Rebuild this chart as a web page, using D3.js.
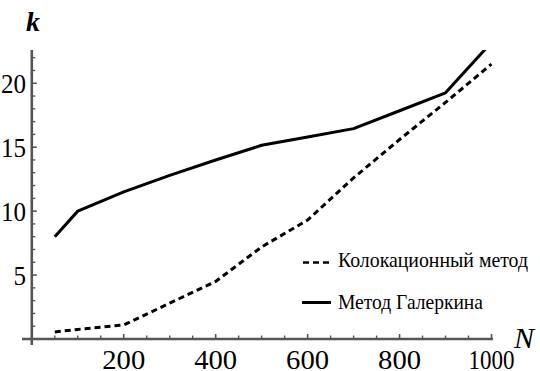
<!DOCTYPE html>
<html><head><meta charset="utf-8">
<script src="https://cdn.jsdelivr.net/npm/d3@7"></script>
<style>
html,body{margin:0;padding:0;background:#fff;}
svg{display:block;}
</style>
</head><body>
<svg id="chart" width="540" height="371"></svg>
<script>
const N = [50, 100, 200, 300, 400, 500, 600, 700, 800, 900, 1000];
const galerkin = [8.0, 10.0, 11.5, 12.8, 14.0, 15.15, 15.8, 16.45, 17.85, 19.25, 23.2];
const collocation = [0.55, 0.75, 1.1, 2.8, 4.5, 7.2, 9.3, 12.6, 15.6, 18.5, 21.5];
const xMajor = [200, 400, 600, 800, 1000];
const xMinor = [50, 100, 150, 250, 300, 350, 450, 500, 550, 650, 700, 750, 850, 900, 950];
const yMajor = [5, 10, 15, 20];
const yMinor = [1, 2, 3, 4, 6, 7, 8, 9, 11, 12, 13, 14, 16, 17, 18, 19, 21, 22];
const seriesNames = ["Колокационный метод", "Метод Галеркина"];

const FONT = "Liberation Serif, DejaVu Serif, Times New Roman, serif";
const svg = d3.select("#chart").attr("font-family", FONT);
const x = d3.scaleLinear().domain([0, 1000]).range([31.8, 491.5]);
const y = d3.scaleLinear().domain([0, 22.6]).range([339, 50]);
const axisColor = "#555";

svg.append("defs").append("clipPath").attr("id", "plot")
  .append("rect").attr("x", x(0)).attr("y", y(22.6)).attr("width", 480).attr("height", y(0) - y(22.6));

// axes lines
svg.append("line").attr("x1", 22).attr("x2", 493).attr("y1", y(0)).attr("y2", y(0))
  .attr("stroke", axisColor).attr("stroke-width", 2.6);
svg.append("line").attr("x1", x(0)).attr("x2", x(0)).attr("y1", y(22.6)).attr("y2", 345)
  .attr("stroke", axisColor).attr("stroke-width", 2.6);

// ticks
svg.selectAll(".xmaj").data(xMajor).join("line")
  .attr("x1", d => x(d)).attr("x2", d => x(d)).attr("y1", y(0)).attr("y2", y(0) - 5)
  .attr("stroke", axisColor).attr("stroke-width", 1.6);
svg.selectAll(".xmin").data(xMinor).join("line")
  .attr("x1", d => x(d)).attr("x2", d => x(d)).attr("y1", y(0)).attr("y2", y(0) - 3.5)
  .attr("stroke", axisColor).attr("stroke-width", 1.4);
svg.selectAll(".ymaj").data(yMajor).join("line")
  .attr("x1", x(0)).attr("x2", x(0) + 5).attr("y1", d => y(d)).attr("y2", d => y(d))
  .attr("stroke", axisColor).attr("stroke-width", 1.6);
svg.selectAll(".ymin").data(yMinor).join("line")
  .attr("x1", x(0)).attr("x2", x(0) + 3.5).attr("y1", d => y(d)).attr("y2", d => y(d))
  .attr("stroke", axisColor).attr("stroke-width", 1.4);

// tick labels
svg.selectAll(".xl").data(xMajor).join("text")
  .attr("font-family", FONT)
  .attr("x", d => x(d)).attr("y", 369).attr("text-anchor", "middle")
  .attr("font-size", 28).attr("fill", "#000")
  .attr("textLength", d => d === 1000 ? 46 : 43).attr("lengthAdjust", "spacingAndGlyphs")
  .text(d => d);
svg.selectAll(".yl").data(yMajor).join("text")
  .attr("font-family", FONT)
  .attr("x", 26).attr("y", d => y(d) + 10).attr("text-anchor", "end")
  .attr("font-size", 28).attr("fill", "#000")
  .attr("textLength", d => String(d).length * 12.5).attr("lengthAdjust", "spacingAndGlyphs")
  .text(d => d);

// axis titles
svg.append("text").attr("font-family", FONT).attr("x", 33).attr("y", 31).attr("text-anchor", "middle")
  .attr("font-size", 28).attr("font-style", "italic").attr("font-weight", "bold")
  .text("k");
svg.append("text").attr("font-family", FONT).attr("x", 524).attr("y", 348).attr("text-anchor", "middle")
  .attr("font-size", 30).attr("font-style", "italic")
  .text("N");

// lines
const line = d3.line().x(d => x(d[0])).y(d => y(d[1]));
const g = svg.append("g").attr("clip-path", "url(#plot)");
g.append("path").datum(N.map((n, i) => [n, galerkin[i]])).attr("d", line)
  .attr("fill", "none").attr("stroke", "#000").attr("stroke-width", 3).attr("stroke-linejoin", "round");
g.append("path").datum(N.map((n, i) => [n, collocation[i]])).attr("d", line)
  .attr("fill", "none").attr("stroke", "#000").attr("stroke-width", 3).attr("stroke-dasharray", "6,4");

// legend
const legend = svg.append("g");
legend.append("line").attr("x1", 303).attr("x2", 331).attr("y1", 262.5).attr("y2", 262.5)
  .attr("stroke", "#000").attr("stroke-width", 2.6).attr("stroke-dasharray", "6,4");
legend.append("line").attr("x1", 302).attr("x2", 331).attr("y1", 302.5).attr("y2", 302.5)
  .attr("stroke", "#000").attr("stroke-width", 3);
legend.append("text").attr("font-family", FONT).attr("x", 338).attr("y", 267).attr("font-size", 22)
  .attr("textLength", 190).attr("lengthAdjust", "spacingAndGlyphs").text(seriesNames[0]);
legend.append("text").attr("font-family", FONT).attr("x", 338).attr("y", 309).attr("font-size", 22)
  .attr("textLength", 145).attr("lengthAdjust", "spacingAndGlyphs").text(seriesNames[1]);
</script>
</body></html>
